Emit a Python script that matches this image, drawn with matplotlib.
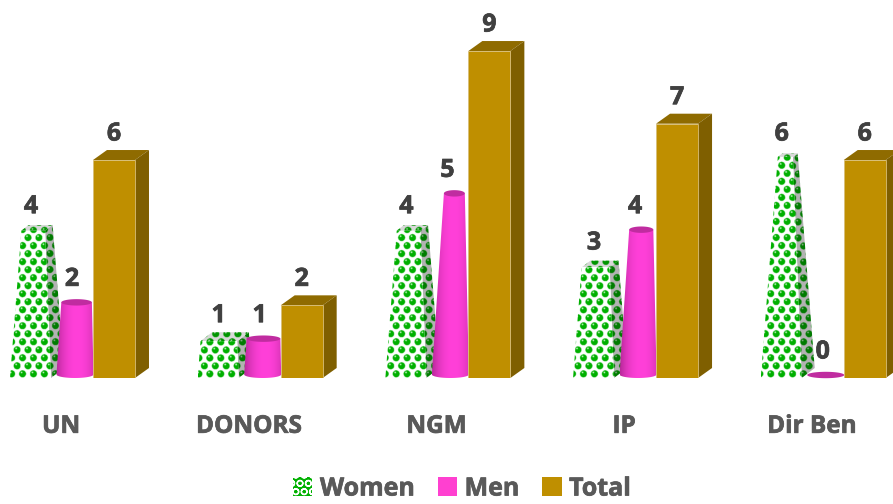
import numpy as np
import matplotlib.patheffects as pe
from matplotlib import pyplot as plt
from matplotlib.patches import Patch, Polygon

plt.rcParams['font.family'] = ['Open Sans', 'DejaVu Sans']
plt.rcParams['font.weight'] = 'bold'

categories = ['UN', 'DONORS', 'NGM', 'IP', 'Dir Ben']
women = [4, 1, 4, 3, 6]
men = [2, 1, 5, 4, 0]
total = [6, 2, 9, 7, 6]

# pixels per unit on each axis
PX_X = 187.7
PX_Y = 36.33

# a thin stroke, the reference text is heavier than the installed bold
heavy = [pe.withStroke(linewidth=0.5, foreground='#404040')]
heavy_grey = [pe.withStroke(linewidth=0.5, foreground='#595959')]


def ox(px):
    return px / PX_X


def oy(px):
    return px / PX_Y


# green dots on white, drawn as an image and clipped to a face
def dots_face(ax, pts, zorder, shade=1.0):
    pts = np.array(pts)
    x0, y0 = pts.min(axis=0)
    x1, y1 = pts.max(axis=0)
    w = max(int((x1 - x0) * PX_X * 3), 2)
    h = max(int((y1 - y0) * PX_Y * 3), 2)
    gx, gy = np.meshgrid(np.linspace(x0 * PX_X, x1 * PX_X, w),
                         np.linspace(y0 * PX_Y, y1 * PX_Y, h))
    row = np.floor(gy / 8)
    cx = (gx + 5.5 * (row % 2)) % 11 - 5.5
    cy = gy % 8 - 4
    r = np.hypot(cx, cy)
    hi = np.hypot(cx + 1, cy - 1.4)
    img = np.ones((h, w, 3))
    img[r < 3.5] = [0.0, 0.69, 0.0]
    img[hi < 0.9] = [0.75, 0.95, 0.75]
    img = img * shade
    im = ax.imshow(img, extent=(x0, x1, y0, y1), origin='lower', aspect='auto',
                   interpolation='bilinear', zorder=zorder)
    im.set_clip_path(Polygon(pts, transform=ax.transData))


def pyramid(ax, c, v, zorder):
    h = 9.5
    t = v / h
    apex = np.array([c + ox(-24), h + oy(5)])
    base = [(c + ox(-51), 0), (c + ox(-10), 0), (c + ox(3), oy(10)), (c + ox(-38), oy(10))]
    top = [np.array(p) + (apex - np.array(p)) * t for p in base]
    dots_face(ax, [base[1], base[2], top[2], top[1]], zorder, 0.7)
    dots_face(ax, [base[0], base[1], top[1], top[0]], zorder + 0.1)
    dots_face(ax, top, zorder + 0.2, 0.85)


def cone(ax, c, v, zorder):
    xb = c + ox(14)
    xt = xb + ox(0.8 * v)
    hw0 = 18.5
    hw1 = hw0 * (1 - v / 11.5)
    yb = oy(3.5)
    yt = v + oy(3)
    a = np.linspace(0, np.pi, 40)
    if v > 0:
        bottom = np.c_[xb - ox(hw0) * np.cos(a), yb - oy(3.5) * np.sin(a)]
        upper = np.c_[xt + ox(hw1) * np.cos(a), yt * np.ones_like(a)]
        body = np.vstack([bottom, upper])
        grad = np.abs(np.linspace(-1, 1, 120)) ** 2.2
        col0 = np.array([1.0, 0.25, 0.85])
        col1 = np.array([0.72, 0.16, 0.60])
        img = (col0[None, :] * (1 - grad[:, None]) + col1[None, :] * grad[:, None])[None, :, :]
        im = ax.imshow(img, extent=(xb - ox(hw0), xb + ox(hw0) + ox(6), -0.02, yt), origin='lower',
                       aspect='auto', zorder=zorder)
        im.set_clip_path(Polygon(body, transform=ax.transData))
    b = np.linspace(0, 2 * np.pi, 60)
    ring = np.c_[xt + ox(hw1) * np.cos(b), yt + oy(3.2) * np.sin(b)]
    ax.add_patch(Polygon(ring, facecolor='#C02CA0', edgecolor='none', zorder=zorder + 0.1, clip_on=False))


def box(ax, c, v, zorder):
    x0 = c + ox(32)
    x1 = c + ox(74)
    dx = ox(14)
    dy = oy(10)
    edge = '#D8BE78'
    ax.bar(c + ox(53), v, width=x1 - x0, color='#BF8F00', edgecolor=edge, linewidth=0.6, zorder=zorder + 0.2)
    ax.add_patch(Polygon([(x0, v), (x1, v), (x1 + dx, v + dy), (x0 + dx, v + dy)],
                         facecolor='#8F6B00', edgecolor='none', zorder=zorder, clip_on=False))
    ax.add_patch(Polygon([(x1, 0), (x1 + dx, dy), (x1 + dx, v + dy), (x1, v)],
                         facecolor='#7F5F00', edgecolor='none', zorder=zorder, clip_on=False))


fig = plt.figure(figsize=(8.93, 5.04), dpi=100)
ax = fig.add_axes([0, 126 / 504, 1, 378 / 504])

for i, name in enumerate(categories):
    pyramid(ax, i, women[i], 2)
    cone(ax, i, men[i], 3)
    box(ax, i, total[i], 4)
    for off, v in [(-30, women[i]), (11, men[i]), (53, total[i])]:
        ax.text(i + ox(off), v + oy(26), str(v), ha='center', va='center',
                fontsize=18, color='#404040', zorder=6, path_effects=heavy)

ax.set_xlim(-0.325, 4.433)
ax.set_ylim(0, 378 / PX_Y)
ax.set_xticks(range(len(categories)), categories)
ax.set_yticks([])
ax.tick_params(axis='x', length=0, pad=26.5, labelsize=17.5, labelcolor='#595959')
for t in ax.get_xticklabels():
    t.set_path_effects(heavy_grey)
for s in ax.spines.values():
    s.set_visible(False)

handles = [Patch(facecolor='#00B000', edgecolor='white', hatch='OO', linewidth=0, label='Women'),
           Patch(facecolor='#FF40D0', label='Men'),
           Patch(facecolor='#BF8F00', label='Total')]
leg = fig.legend(handles=handles, loc='center', bbox_to_anchor=(462 / 893, 1 - 489 / 504), ncol=3, frameon=False,
                 fontsize=18, labelcolor='#595959', handlelength=0.78, handleheight=0.78,
                 handletextpad=0.3, columnspacing=0.9, borderpad=0)
for t in leg.get_texts():
    t.set_path_effects(heavy_grey)

fig.savefig('out.png', dpi=100)
